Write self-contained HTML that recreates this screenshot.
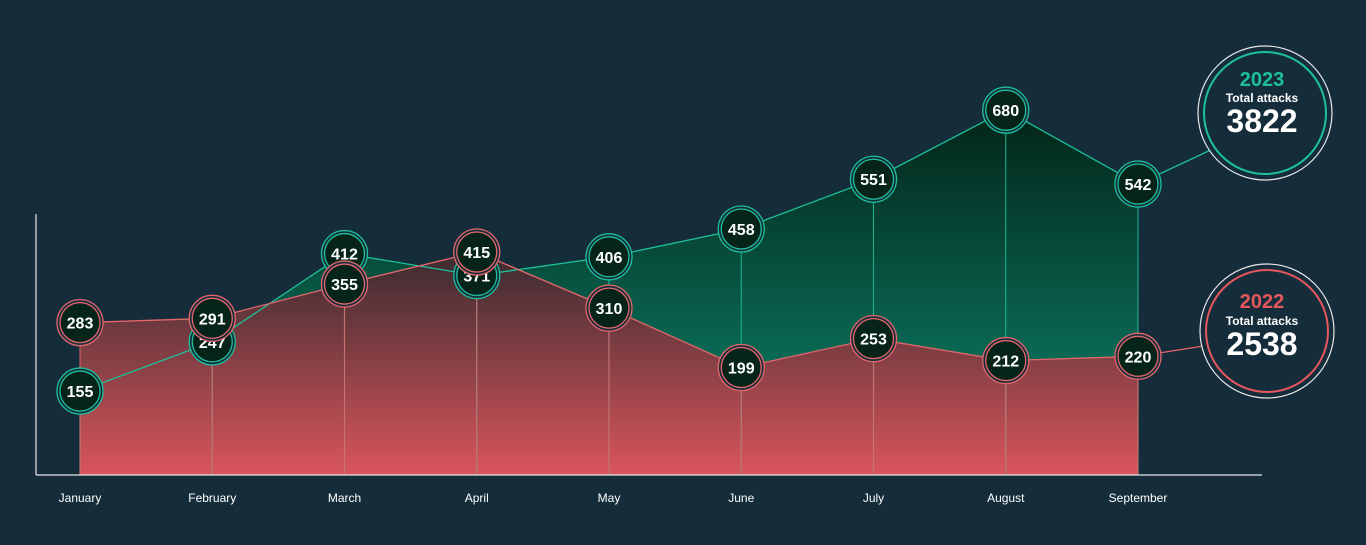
<!DOCTYPE html>
<html><head><meta charset="utf-8"><style>
html,body{margin:0;padding:0;background:#152d3b;}
svg{display:block;font-family:"Liberation Sans",sans-serif;}
</style></head><body>
<svg id="chart" width="1366" height="545" viewBox="0 0 1366 545">
<defs>
<linearGradient id="gGreen" x1="0" y1="110" x2="0" y2="380" gradientUnits="userSpaceOnUse"><stop offset="0" stop-color="#032418"/><stop offset="1" stop-color="#0a6f59"/></linearGradient>
<linearGradient id="gRed" x1="0" y1="245" x2="0" y2="475" gradientUnits="userSpaceOnUse"><stop offset="0" stop-color="#332a2e"/><stop offset="1" stop-color="#d9555b"/></linearGradient>
</defs>
<rect width="1366" height="545" fill="#152d3b"/>
<g id="areas"></g><g id="vlines"></g><g id="lines"></g>
<line x1="36" y1="214" x2="36" y2="475" stroke="#e6e6e6" stroke-width="1.2"/>
<line x1="36" y1="475" x2="1262" y2="475" stroke="#e6e6e6" stroke-width="1.2"/>
<g id="xlabels"></g><g id="points"></g>
<g>
<circle cx="1265" cy="113" r="67" fill="#152d3b" stroke="#e8e8e8" stroke-width="1.2"/>
<circle cx="1265" cy="113" r="61" fill="none" stroke="#1ec09a" stroke-width="2"/>
<text x="1262" y="86" text-anchor="middle" fill="#1ec09a" font-weight="bold" font-size="20">2023</text>
<text x="1262" y="102" text-anchor="middle" fill="#fff" font-weight="bold" font-size="12">Total attacks</text>
<text x="1262" y="132" text-anchor="middle" fill="#fff" font-weight="bold" font-size="32">3822</text>
</g>
<g>
<circle cx="1267" cy="331" r="67" fill="#152d3b" stroke="#e8e8e8" stroke-width="1.2"/>
<circle cx="1267" cy="331" r="61" fill="none" stroke="#e5575d" stroke-width="2"/>
<text x="1262" y="308" text-anchor="middle" fill="#e5575d" font-weight="bold" font-size="20">2022</text>
<text x="1262" y="325" text-anchor="middle" fill="#fff" font-weight="bold" font-size="12">Total attacks</text>
<text x="1262" y="355" text-anchor="middle" fill="#fff" font-weight="bold" font-size="32">2538</text>
</g>
</svg>
<script>
const months=["January","February","March","April","May","June","July","August","September"];
const values2022=[283,291,355,415,310,199,253,212,220];
const values2023=[155,247,412,371,406,458,551,680,542];
const NS="http://www.w3.org/2000/svg";
const xs=i=>80+i*132.25;
const ys=v=>474-0.535*v;
const base=475;
function mk(t,a,p){const e=document.createElementNS(NS,t);for(const k in a)e.setAttribute(k,a[k]);p.appendChild(e);return e;}
const areas=document.getElementById('areas'),vl=document.getElementById('vlines'),ln=document.getElementById('lines'),pts=document.getElementById('points'),xl=document.getElementById('xlabels');
function pstr(arr){return arr.map((v,i)=>xs(i)+","+ys(v)).join(" ");}
const n=months.length;
const ag=mk('polygon',{points:pstr(values2023)+" "+xs(n-1)+","+base+" "+xs(0)+","+base,fill:"url(#gGreen)"},areas);


const ar=mk('polygon',{points:pstr(values2022)+" "+xs(n-1)+","+base+" "+xs(0)+","+base,fill:"url(#gRed)"},areas);


const l3=mk('polyline',{points:pstr(values2023)+" 1215,148",fill:"none",stroke:"#1ec09a","stroke-width":1.3},ln);


const l2=mk('polyline',{points:pstr(values2022)+" 1210,345",fill:"none",stroke:"#e5676b","stroke-width":1.3},ln);


months.forEach((m,i)=>{
  const x=xs(i);
  const t=mk('text',{x:x,y:502,"text-anchor":"middle",fill:"#fff","font-size":12},xl);t.textContent=m;
  
  
  [[values2023,"#1ec09a","2023"],[values2022,"#e5676b","2022"]].forEach(([arr,c,yr])=>{
    const v=mk('line',{x1:x,y1:ys(arr[i]),x2:x,y2:base,stroke:c,"stroke-width":1.1,opacity:0.85},vl);
    
    
  });
});
[[values2023,"#1ec09a","2023"],[values2022,"#e5676b","2022"]].forEach(([arr,c,yr])=>{
  arr.forEach((val,i)=>{
    const g=mk('g',{},pts);
    
    
    const x=xs(i),y=ys(val);
    mk('circle',{cx:x,cy:y,r:23,fill:"#152d3b",stroke:c,"stroke-width":1.3},g);
    mk('circle',{cx:x,cy:y,r:20,fill:"#06241a",stroke:c,"stroke-width":1.3},g);
    const t=mk('text',{x:x,y:y+6,"text-anchor":"middle",fill:"#fff","font-size":16,"font-weight":"bold"},g);t.textContent=val;
  });
});
</script>
</body></html>
